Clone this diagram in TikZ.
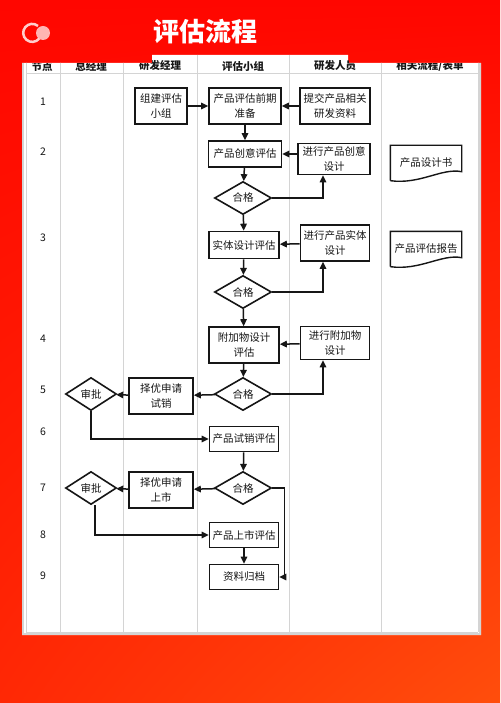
\documentclass[tikz,border=0pt]{standalone}
\usepackage{fontspec}
\setmainfont{Noto Sans CJK SC}
\usetikzlibrary{arrows.meta,calc,positioning,shapes.geometric,shadings}
\definecolor{bannerred}{RGB}{255,6,0}
\definecolor{bannerdeep}{RGB}{255,40,5}
\definecolor{bannerorange}{RGB}{255,78,12}
\definecolor{gridline}{RGB}{212,212,212}
\definecolor{ink}{RGB}{22,22,22}
\newcommand{\BoxFont}{\fontsize{10.5}{15}\selectfont}
\tikzset{
  stepbox/.style={draw=ink, line width=1.6pt, fill=white, align=center, font=\BoxFont, text=ink, minimum height=26, inner sep=2pt},
  tallbox/.style={stepbox, minimum height=36},
  check/.style={diamond, draw=ink, line width=1.6pt, fill=white, aspect=1.7, inner sep=0pt, minimum width=57, minimum height=33, font=\BoxFont, text=ink},
  doc/.style={minimum width=71, minimum height=35, font=\BoxFont, text=ink, inner sep=0pt},
  docline/.style={draw=ink, line width=1.4pt},
  flow/.style={-{Triangle[length=7pt, width=6.5pt]}, line width=1.5pt, draw=ink},
  grid/.style={draw=gridline, line width=0.8pt},
  head/.style={font=\bfseries\BoxFont, text=ink},
  rowno/.style={font=\BoxFont, text=ink}
}

\begin{document}
\begin{tikzpicture}[x=1pt, y=-1pt]
  \useasboundingbox (0,0) rectangle (500,703);
  % banner background
  \shade[upper left=bannerred, upper right=bannerred, lower left=bannerdeep, lower right=bannerorange] (0,0) rectangle (500,703);
  \draw[white, line width=2.5pt, opacity=0.8] (38,26) arc[start angle=-50, end angle=-320, radius=9];
  \fill[white!75!pink, opacity=0.75] (43,33) circle (7);
  \node[font=\bfseries\fontsize{26}{30}\selectfont, text=white] (title) at (205,32) {评估流程};
  % table
  \fill[white] (22,63) -- (152,63) -- (152,55) -- (348,55) -- (348,63) -- (481,63) -- (481,635) -- (22,635) -- cycle;
  \draw[gridline, line width=1.5pt] (23,63) -- (23,634) -- (480,634) -- (480,63);
  \begin{scope}
    \clip (22,63) -- (152,63) -- (152,55) -- (348,55) -- (348,63) -- (481,63) -- (481,635) -- (22,635) -- cycle;
    \foreach \x/\t in {42/节点, 91/总经理, 160/研发经理, 243/评估小组, 335/研发人员, 430/{相关流程/表单}}
      \node[head] (h\x) at (\x,66) {\t};
    \foreach \x in {26,60,123,197,289,381,478}
      \draw[grid] (\x,55) -- (\x,632);
    \draw[grid] (26,73) -- (478,73);
    \draw[grid] (26,632) -- (478,632);
  \end{scope}
  \foreach \y/\n in {102/1,152/2,238/3,339/4,390/5,432/6,488/7,535/8,576/9}
    \node[rowno] (r\n) at (43,\y) {\n};
  % steps
  \node[tallbox, minimum width=52] (zujian) at (161,106) {组建评估\\小组};
  \node[tallbox, minimum width=72] (qianqi) at (245,106) {产品评估前期\\准备};
  \node[tallbox, minimum width=70] (tijiao) at (335,106) {提交产品相关\\研发资料};
  \node[stepbox, minimum width=73] (chuangyi) at (245,154) {产品创意评估};
  \node[tallbox, minimum width=72, minimum height=31] (sheji1) at (334,159) {进行产品创意\\设计};
  \node[check] (hg1) at (243,198) {合格};
  \node[stepbox, minimum width=70, minimum height=27] (shiti) at (244,245) {实体设计评估};
  \node[tallbox, minimum width=69] (sheji2) at (335,243) {进行产品实体\\设计};
  \node[check] (hg2) at (243,292) {合格};
  \node[tallbox, minimum width=70] (fujia) at (244,345) {附加物设计\\评估};
  \node[tallbox, minimum width=69, minimum height=33] (sheji3) at (335,343) {进行附加物\\设计};
  \node[check] (hg3) at (243,394) {合格};
  \node[tallbox, minimum width=64] (shenqing1) at (161,396) {择优申请\\试销};
  \node[check, minimum width=51] (sp1) at (91,394) {审批};
  \node[stepbox, minimum width=69, minimum height=25] (shixiao) at (244,439) {产品试销评估};
  \node[check] (hg4) at (243,488) {合格};
  \node[tallbox, minimum width=64] (shenqing2) at (161,490) {择优申请\\上市};
  \node[check, minimum width=51] (sp2) at (91,488) {审批};
  \node[stepbox, minimum width=69, minimum height=25] (shangshi) at (244,535) {产品上市评估};
  \node[stepbox, minimum width=69, minimum height=25] (guidang) at (244,577) {资料归档};
  % documents
  \node[doc] (shejishu) at (426,163) {产品设计书};
  \node[doc] (baogao) at (426,249) {产品评估报告};
  \foreach \d in {shejishu,baogao}
    \draw[docline] (\d.south west) -- (\d.north west) -- (\d.north east) -- ([yshift=9pt]\d.south east)
      .. controls ([xshift=-20pt,yshift=13pt]\d.south east) and ([xshift=30pt,yshift=-4pt]\d.south west) .. (\d.south west);
  % connectors
  \draw[flow] (zujian) -- (qianqi);
  \draw[flow] (tijiao) -- (qianqi);
  \draw[flow] (qianqi) -- (chuangyi);
  \draw[flow] (sheji1.west |- chuangyi) -- (chuangyi);
  \draw[flow] (chuangyi) -- (hg1);
  \draw[flow] (hg1.east) -| ([xshift=-11pt]sheji1.south);
  \draw[flow] (hg1) -- (shiti);
  \draw[flow] (sheji2) -- (shiti);
  \draw[flow] (shiti) -- (hg2);
  \draw[flow] (hg2.east) -| ([xshift=-12pt]sheji2.south);
  \draw[flow] (hg2) -- (fujia);
  \draw[flow] (sheji3) -- (fujia);
  \draw[flow] (fujia) -- (hg3);
  \draw[flow] (hg3.east) -| ([xshift=-12pt]sheji3.south);
  \draw[flow] (hg3) -- (shenqing1);
  \draw[flow] (shenqing1) -- (sp1);
  \draw[flow] (sp1.south) |- (shixiao.west);
  \draw[flow] (shixiao) -- (hg4);
  \draw[flow] (hg4) -- (shenqing2);
  \draw[flow] (shenqing2) -- (sp2);
  \draw[flow] ([xshift=4pt]sp2.south) |- (shangshi.west);
  \draw[flow] (shangshi) -- (guidang);
  \draw[flow] (hg4.east) -- ++(12,0) |- (guidang.east);
\end{tikzpicture}
\end{document}
